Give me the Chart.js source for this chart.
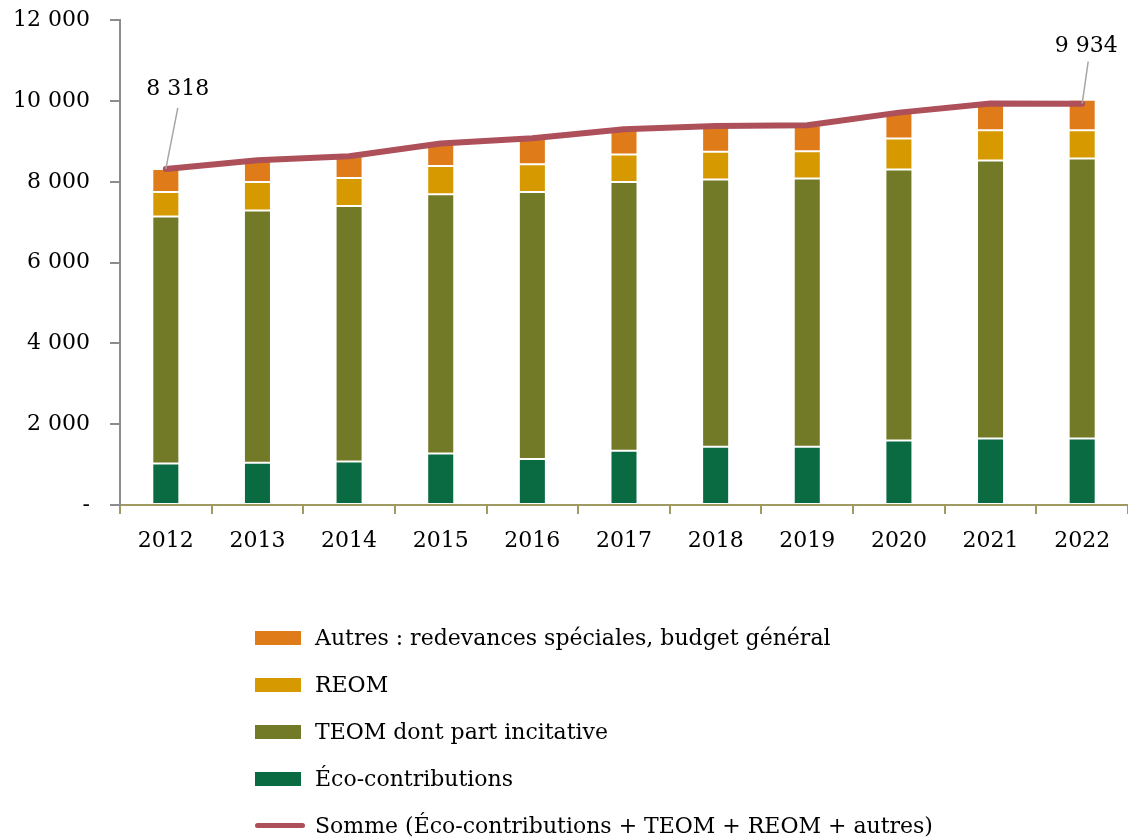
<!DOCTYPE html>
<html>
<head>
<meta charset="utf-8">
<script src="https://cdn.jsdelivr.net/npm/chart.js@4.4.1/dist/chart.umd.min.js"></script>
<style>
  html, body { margin: 0; padding: 0; background: #fff; overflow: hidden; }
  #wrap { position: relative; width: 1128px; height: 839px; overflow: hidden; }
  #chart { position: absolute; left: 0; top: -13px; }
  #legend { position: absolute; left: 255px; top: 614px; font-family: "DejaVu Serif", serif; font-size: 22px; color: #000; }
  .item { height: 47px; display: flex; align-items: center; white-space: nowrap; }
  .sw { width: 46px; height: 14px; margin-right: 14px; flex: none; }
  .ln { width: 50px; height: 5px; border-radius: 3px; margin-right: 10px; flex: none; }
</style>
</head>
<body>
<div id="wrap">
  <canvas id="chart" width="1128" height="852"></canvas>
  <div id="legend"></div>
</div>
<script>
const years = ['2012','2013','2014','2015','2016','2017','2018','2019','2020','2021','2022'];
const ecoContributions = [1030, 1045, 1078, 1276, 1136, 1341, 1440, 1440, 1597, 1646, 1646];
const teom = [6113, 6247, 6322, 6416, 6609, 6651, 6618, 6643, 6708, 6881, 6929];
const reom = [602, 700, 691, 698, 692, 683, 683, 674, 765, 749, 701];
const autres = [573, 543, 543, 556, 642, 625, 642, 643, 642, 658, 757];
const somme = [8318, 8535, 8634, 8946, 9079, 9300, 9383, 9400, 9712, 9940, 9934];
const yTicks = [0, 2000, 4000, 6000, 8000, 10000, 12000];
const annotatedIndexes = [0, 10];

const labels = {
  eco: 'Éco-contributions',
  teom: 'TEOM dont part incitative',
  reom: 'REOM',
  autres: 'Autres : redevances spéciales, budget général',
  somme: 'Somme (Éco-contributions + TEOM + REOM + autres)'
};
const colors = {
  eco: '#0A6B43',
  teom: '#737A27',
  reom: '#D69A00',
  autres: '#E07B1A',
  somme: '#AE505A'
};

function fmt(v) {
  if (v === 0) return '-';
  return String(v).replace(/\B(?=(\d{3})+(?!\d))/g, ' ');
}

const FONT = '"DejaVu Serif", serif';

const barCommon = {
  type: 'bar', stack: 'bars', order: 1,
  barPercentage: 0.295, categoryPercentage: 1,
  borderWidth: 1, borderColor: 'rgba(255,255,255,0.25)', borderSkipped: false
};

const annotationPlugin = {
  id: 'annot',
  afterDatasetsDraw(chart) {
    const ctx = chart.ctx;
    const meta = chart.getDatasetMeta(4);
    const specs = {0: {dx: 12, dy: -80, lx: 12, ly: -61}, 10: {dx: 4, dy: -57, lx: 6, ly: -42}};
    annotatedIndexes.forEach(i => {
      const p = meta.data[i];
      const s = specs[i];
      ctx.save();
      ctx.strokeStyle = '#A6A6A6';
      ctx.lineWidth = 1.5;
      ctx.beginPath();
      ctx.moveTo(p.x + s.lx, p.y + s.ly);
      ctx.lineTo(p.x, p.y);
      ctx.stroke();
      ctx.fillStyle = '#000';
      ctx.font = '22px ' + FONT;
      ctx.textAlign = 'center';
      ctx.textBaseline = 'middle';
      ctx.fillText(fmt(somme[i]), p.x + s.dx, p.y + s.dy);
      ctx.restore();
    });
  }
};

const chart = new Chart(document.getElementById('chart'), {
  data: {
    labels: years,
    datasets: [
      Object.assign({}, barCommon, {label: labels.eco, data: ecoContributions, backgroundColor: colors.eco}),
      Object.assign({}, barCommon, {label: labels.teom, data: teom, backgroundColor: colors.teom}),
      Object.assign({}, barCommon, {label: labels.reom, data: reom, backgroundColor: colors.reom}),
      Object.assign({}, barCommon, {label: labels.autres, data: autres, backgroundColor: colors.autres}),
      {type: 'line', label: labels.somme, data: somme, stack: 'somme', order: 0,
       borderColor: colors.somme, backgroundColor: colors.somme, borderWidth: 6,
       pointRadius: 0, tension: 0, fill: false, borderJoinStyle: 'round', borderCapStyle: 'round'}
    ]
  },
  options: {
    responsive: false,
    animation: false,
    events: [],
    layout: {padding: {top: 6, right: 0, bottom: 0, left: 0}},
    plugins: {legend: {display: false}, tooltip: {enabled: false}},
    scales: {
      x: {
        stacked: true,
        afterFit(scale) { scale.height = 334; },
        border: {color: '#A09A60', width: 2},
        grid: {offset: true, drawOnChartArea: false, drawTicks: true, tickLength: 9, color: '#A09A60', lineWidth: 2},
        ticks: {color: '#000', font: {family: FONT, size: 22}, padding: 14, maxRotation: 0}
      },
      y: {
        stacked: true,
        min: 0, max: 12000,
        afterFit(scale) { scale.width = 120; },
        afterBuildTicks(scale) { scale.ticks = yTicks.map(v => ({value: v})); },
        border: {color: '#8C8C8C', width: 2},
        grid: {drawOnChartArea: false, drawTicks: true, tickLength: 10, color: '#8C8C8C', lineWidth: 2},
        ticks: {color: '#000', font: {family: FONT, size: 22}, padding: 20, callback: v => fmt(v)}
      }
    }
  },
  plugins: [annotationPlugin]
});

// HTML legend built from the chart's datasets
const legendOrder = [3, 2, 1, 0, 4];
const leg = document.getElementById('legend');
legendOrder.forEach(i => {
  const ds = chart.data.datasets[i];
  const row = document.createElement('div');
  row.className = 'item';
  const sw = document.createElement('span');
  sw.className = ds.type === 'line' ? 'ln' : 'sw';
  sw.style.background = ds.type === 'line' ? ds.borderColor : ds.backgroundColor;
  const t = document.createElement('span');
  t.textContent = ds.label;
  row.appendChild(sw);
  row.appendChild(t);
  leg.appendChild(row);
});
</script>
</body>
</html>
